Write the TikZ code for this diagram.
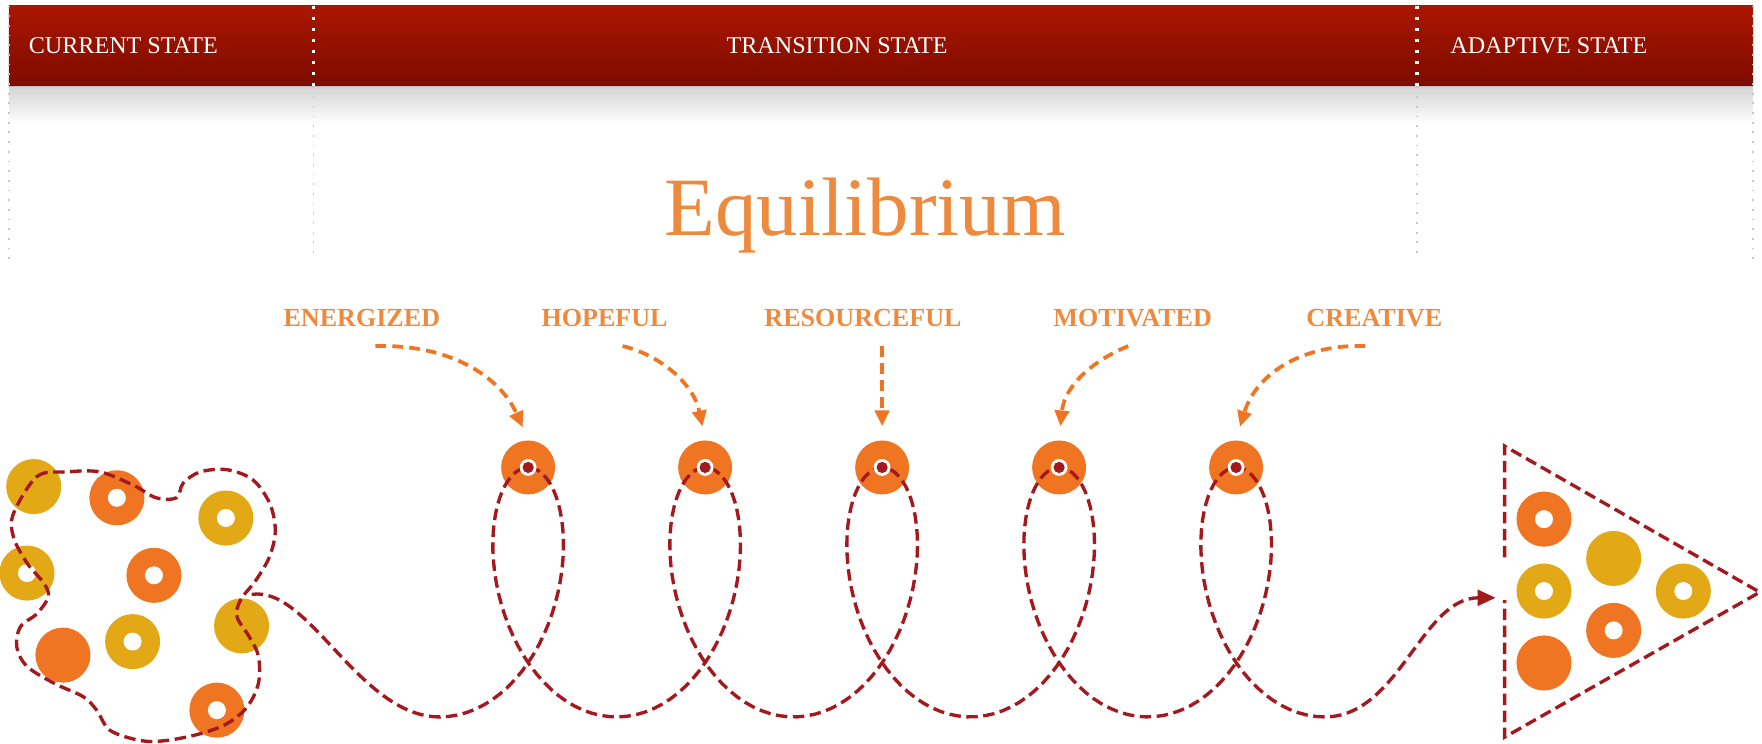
\documentclass[tikz,border=0pt]{standalone}
\usepackage{fontspec}
\setmainfont{Liberation Serif}
\usetikzlibrary{arrows.meta,positioning}
\definecolor{bandtop}{HTML}{AB1600}
\definecolor{bandbot}{HTML}{7C0B00}
\definecolor{rust}{HTML}{A3191E}
\definecolor{flame}{HTML}{F07522}
\definecolor{gold}{HTML}{E3A815}
\definecolor{peach}{HTML}{EE8A3E}
\definecolor{rule}{HTML}{C8C8C8}
\tikzset{
  trail/.style={draw=rust,line width=.85pt,dash pattern=on 2.9pt off 1.4pt},
  pointer/.style={draw=flame,line width=.95pt,dash pattern=on 2.7pt off 1.6pt,
    -{Triangle[length=4pt,width=3.6pt]},shorten >=.12cm},
  headtext/.style={text=white,font=\fontsize{6.1}{7}\selectfont,inner sep=0pt},
  mood/.style={text=peach,font=\bfseries\fontsize{6.6}{8}\selectfont,inner sep=0pt},
  loopdot/.style={circle,fill=flame,minimum size=.48cm,inner sep=0pt},
  divider/.style={draw=rule,dotted,line width=.45pt}}
\begin{document}
\begin{tikzpicture}[x=0.01cm,y=-0.01cm]
\path[use as bounding box] (0,0) rectangle (1568,662);
% header band
\shade[top color=black!17,bottom color=white] (8,77) rectangle (1560,110);
\shade[top color=bandtop,bottom color=bandbot] (8,5) rectangle (1560,77);
\draw[draw=black!25,line width=.4pt] (8,77) -- (1560,77);
\draw[white,dotted,line width=.8pt] (279,5) -- (279,77);
\draw[white,dotted,line width=.8pt] (1261,5) -- (1261,77);
\draw[divider] (8,5) -- (8,232);
\draw[divider] (279,77) -- (279,232);
\draw[divider] (1261,77) -- (1261,232);
\draw[divider] (1560,5) -- (1560,232);
\node[headtext,anchor=west] (cur) at (25,41) {CURRENT STATE};
\node[headtext] (trans) at (745,41) {TRANSITION STATE};
\node[headtext,anchor=west] (adapt) at (1290,41) {ADAPTIVE STATE};
\node[text=peach,font=\fontsize{21}{24}\selectfont,anchor=base,inner sep=0pt] (eq) at (770,210) {Equilibrium};
% moods
\node[mood,anchor=base] (l1) at (322,291) {ENERGIZED};
\node[mood,anchor=base] (l2) at (538,291) {HOPEFUL};
\node[mood,anchor=base] (l3) at (768,291) {RESOURCEFUL};
\node[mood,anchor=base] (l4) at (1008,291) {MOTIVATED};
\node[mood,anchor=base] (l5) at (1223,291) {CREATIVE};
\node[loopdot] (n1) at (470,416) {};
\node[loopdot] (n2) at (627.5,416) {};
\node[loopdot] (n3) at (785,416) {};
\node[loopdot] (n4) at (942.5,416) {};
\node[loopdot] (n5) at (1100,416) {};
\coordinate (a1) at (334,308);
\coordinate (a2) at (554,308);
\coordinate (a3) at (785,308);
\coordinate (a4) at (1004,308);
\coordinate (a5) at (1215,308);
\draw[pointer] (a1) .. controls (400,306) and (445,335) .. (n1.north);
\draw[pointer] (a2) .. controls (585,315) and (617,340) .. (n2.north);
\draw[pointer] (a3) -- (n3.north);
\draw[pointer] (a4) .. controls (970,322) and (947,345) .. (n4.north);
\draw[pointer] (a5) .. controls (1160,306) and (1118,332) .. (n5.north);
% current state cluster
\fill[gold] (30,433) circle (24.5);
\fill[flame] (104,443) circle (24.5); \fill[white] (104,443) circle (8);
\fill[gold] (201,461) circle (24.5); \fill[white] (201,461) circle (8);
\fill[gold] (24,510) circle (24.5); \fill[white] (24,510) circle (8);
\fill[flame] (137,512) circle (24.5); \fill[white] (137,512) circle (8);
\fill[gold] (215,557) circle (24.5);
\fill[flame] (56,583) circle (24.5);
\fill[gold] (118,571) circle (24.5); \fill[white] (118,571) circle (8);
\fill[flame] (193,632) circle (24.5); \fill[white] (193,632) circle (8);
\draw[trail] plot[smooth cycle,tension=.55] coordinates {(12,457) (33,424) (59,420) (89,420)
  (119,432) (139,443) (157,443) (163,430) (178,420) (202,418) (225,427) (240,448) (245,472)
  (240,495) (228,516) (214,534) (211,549) (222,567) (230,584) (230,608) (220,629) (202,644)
  (178,653) (148,659) (125,659) (98,650) (86,632) (74,620) (48,608) (24,593) (15,576)
  (18,558) (33,546) (43,531) (39,519) (24,501) (12,478)};
% the spiral
\draw[trail,-{Triangle[length=4.6pt,width=4pt]}] (224,529) .. controls (275,521) and (320,638) .. (391.24,638)
  -- plot[domain=-3.14159:28.27433,samples=360,variable=\t] ({470+25.07*\t-66*sin(\t r)},{527-111*cos(\t r)})
  .. controls (1245,638) and (1265,532) .. (1331,532);
\fill[white] (n1) circle (7.5); \fill[rust] (n1) circle (5);
\fill[white] (n2) circle (7.5); \fill[rust] (n2) circle (5);
\fill[white] (n3) circle (7.5); \fill[rust] (n3) circle (5);
\fill[white] (n4) circle (7.5); \fill[rust] (n4) circle (5);
\fill[white] (n5) circle (7.5); \fill[rust] (n5) circle (5);
% adaptive state
\draw[trail] (1339,496) -- (1339,397) -- (1566,527) -- (1339,656) -- (1339,534);
\fill[flame] (1374,462) circle (24.5); \fill[white] (1374,462) circle (8);
\fill[gold] (1436,497) circle (24.5);
\fill[gold] (1374,526) circle (24.5); \fill[white] (1374,526) circle (8);
\fill[gold] (1498,526) circle (24.5); \fill[white] (1498,526) circle (8);
\fill[flame] (1436,561) circle (24.5); \fill[white] (1436,561) circle (8);
\fill[flame] (1374,590) circle (24.5);
\end{tikzpicture}
\end{document}
